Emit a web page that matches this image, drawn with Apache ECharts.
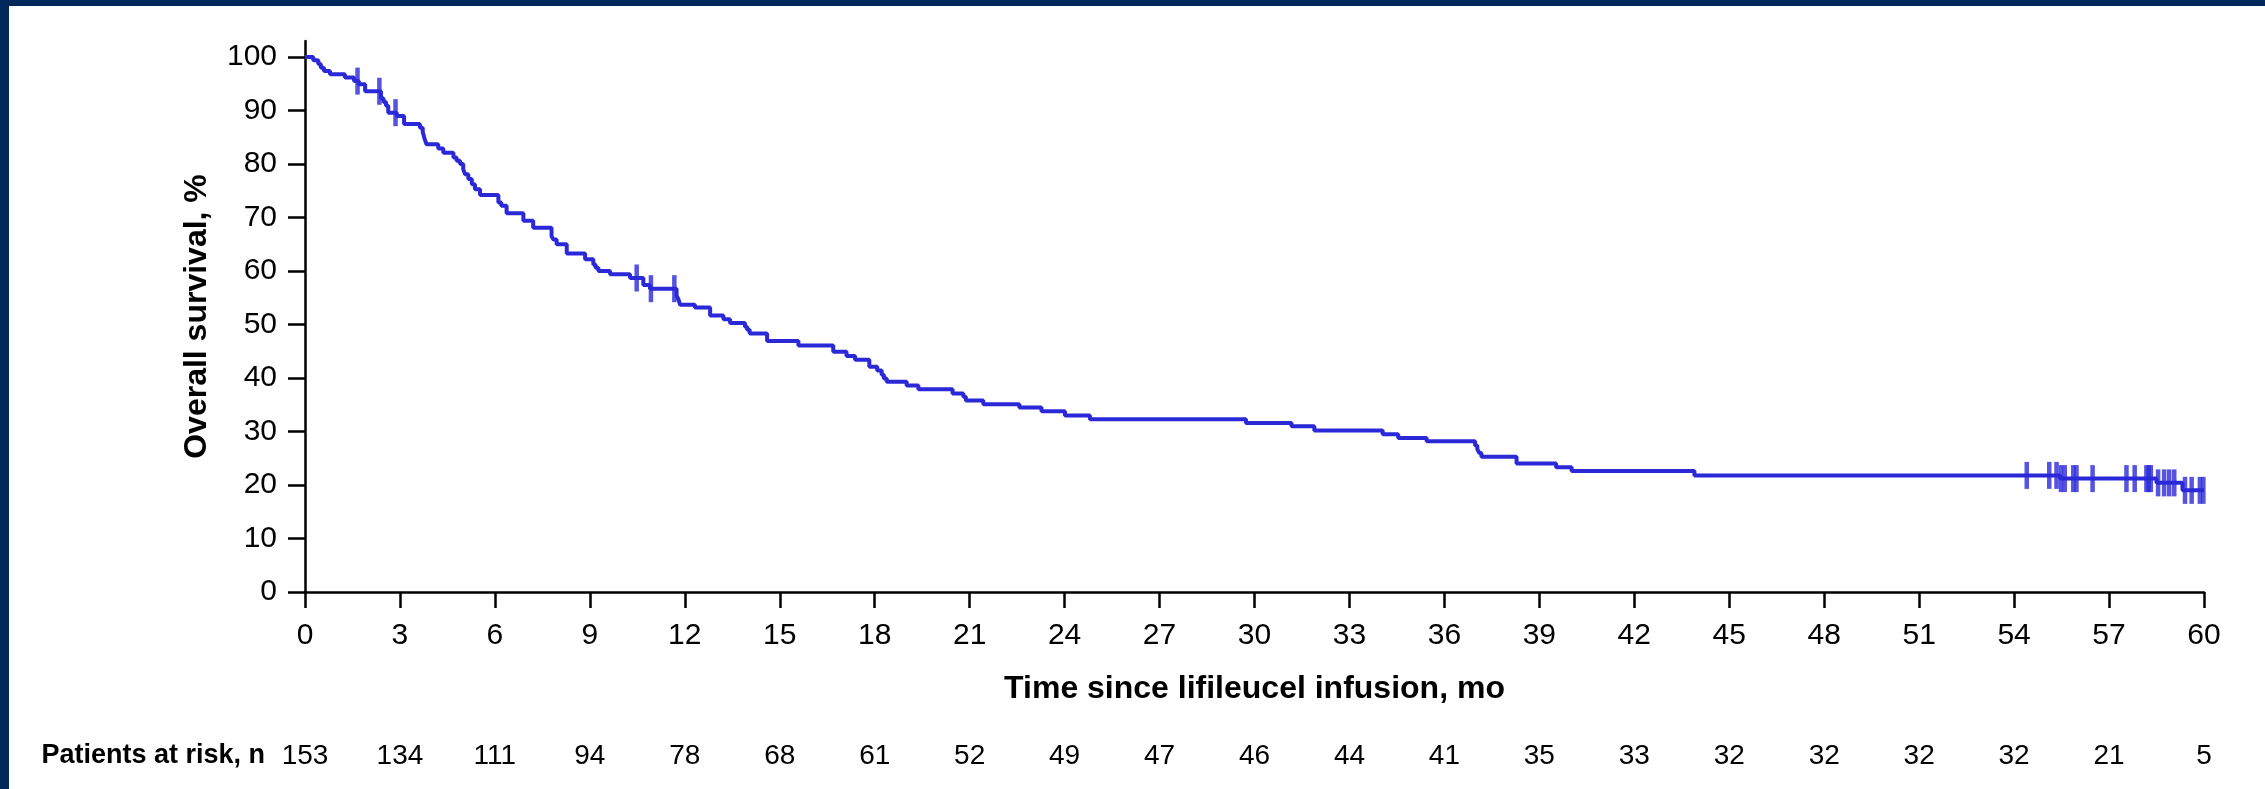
<!DOCTYPE html>
<html>
<head>
<meta charset="utf-8">
<script src="https://cdn.jsdelivr.net/npm/echarts@6/dist/echarts.min.js"></script>
<style>
  html, body { margin: 0; padding: 0; width: 2265px; height: 789px; background: #00285a; overflow: hidden; }
  #chart { position: absolute; left: 9px; top: 6px; width: 2256px; height: 783px; background: #ffffff; }
</style>
</head>
<body>
<div id="chart"></div>
<script>
// Kaplan-Meier step points (time in months, overall survival %)
const timeMo = [0, 0.26, 0.42, 0.50, 0.60, 0.79, 1.26, 1.55, 1.70, 1.90, 2.40, 2.48, 2.56, 2.63, 2.90, 3.13, 3.63, 3.72, 3.78, 3.84,
  4.21, 4.37, 4.69, 4.79, 4.90, 5.00, 5.06, 5.16, 5.27, 5.37, 5.53, 6.11, 6.20, 6.37, 6.90, 7.21, 7.79, 7.85, 7.95, 8.27,
  8.85, 9.11, 9.18, 9.27, 9.64, 10.27, 10.69, 10.90, 11.74, 11.80, 11.85, 12.32, 12.80, 13.22, 13.43, 13.90, 13.97, 14.05, 14.60,
  15.59, 16.69, 17.11, 17.38, 17.83, 18.08, 18.22, 18.29, 18.38, 19.01, 19.38, 20.46, 20.80, 20.88, 21.43, 22.57, 23.27, 24.01, 24.80,
  29.73, 31.17, 31.89, 34.05, 34.54, 35.44, 36.97, 37.04, 37.10, 37.17, 38.28, 39.53, 40.02, 43.90, 55.45, 58.50, 59.32, 60.0];
const survPct = [100, 99.4, 98.7, 98.0, 97.4, 96.8, 96.2, 95.5, 94.9, 93.6, 92.3, 91.6, 90.9, 89.6, 89.0, 87.5, 86.8, 86.0, 84.7, 83.7,
  82.9, 82.1, 81.2, 80.6, 80.0, 79.0, 78.1, 77.2, 76.2, 75.3, 74.2, 72.8, 72.2, 70.8, 69.4, 68.1, 66.5, 65.9, 65.0, 63.3,
  62.2, 61.2, 60.6, 60.0, 59.4, 58.7, 57.4, 56.7, 55.4, 54.7, 53.7, 53.2, 51.7, 51.0, 50.3, 49.6, 49.0, 48.3, 46.9,
  46.1, 44.9, 44.1, 43.4, 42.1, 41.4, 40.6, 39.9, 39.3, 38.6, 37.9, 37.1, 36.5, 35.8, 35.1, 34.5, 33.8, 33.0, 32.3,
  31.6, 31.0, 30.2, 29.5, 28.8, 28.2, 27.4, 26.7, 26.0, 25.3, 24.0, 23.3, 22.6, 21.8, 21.2, 20.4, 19.0, 19.0];

// Censored observations
const censorMo = [1.66, 2.35, 2.86, 10.48, 10.93, 11.67,
  54.40, 55.11, 55.34, 55.48, 55.60, 55.87, 55.97, 56.48, 57.55, 57.81, 58.18, 58.25, 58.32,
  58.55, 58.74, 58.90, 59.06, 59.40, 59.61, 59.87, 59.98];
const censorPct = [95.5, 93.6, 89.6, 58.7, 56.7, 56.7,
  21.8, 21.8, 21.8, 21.2, 21.2, 21.2, 21.2, 21.2, 21.2, 21.2, 21.2, 21.2, 21.2,
  20.4, 20.4, 20.4, 20.4, 19.0, 19.0, 19.0, 19.0];

// Number at risk table
const riskMo = [0, 3, 6, 9, 12, 15, 18, 21, 24, 27, 30, 33, 36, 39, 42, 45, 48, 51, 54, 57, 60];
const riskN = [153, 134, 111, 94, 78, 68, 61, 52, 49, 47, 46, 44, 41, 35, 33, 32, 32, 32, 32, 21, 5];

const yTicks = [0, 10, 20, 30, 40, 50, 60, 70, 80, 90, 100];

const lineColor = '#2b28d8';
const font = "'Liberation Sans', Arial, Helvetica, sans-serif";

const kmData = timeMo.map((t, i) => [t, survPct[i]]);
const censorData = censorMo.map((t, i) => [t, censorPct[i]]);
const riskMap = {};
riskMo.forEach((t, i) => { riskMap[t] = riskN[i]; });

const chart = echarts.init(document.getElementById('chart'), null, { renderer: 'canvas' });
chart.setOption({
  animation: false,
  backgroundColor: '#ffffff',
  grid: [
    { left: 296, right: 61, top: 35, bottom: 197 },
    { left: 296, right: 61, top: 749, height: 1 }
  ],
  xAxis: [
    {
      gridIndex: 0, type: 'value', min: 0, max: 60, interval: 3,
      name: 'Time since lifileucel infusion, mo', nameLocation: 'middle', nameGap: 81,
      nameTextStyle: { fontFamily: font, fontWeight: 'bold', fontSize: 32, color: '#000' },
      axisLine: { show: true, onZero: false, lineStyle: { color: '#000', width: 2.5 } },
      axisTick: { show: true, length: 16, lineStyle: { color: '#000', width: 2.5 } },
      axisLabel: { fontFamily: font, fontSize: 30, color: '#000', margin: 29 },
      splitLine: { show: false }
    },
    {
      gridIndex: 1, type: 'value', min: 0, max: 60, interval: 3,
      name: 'Patients at risk, n', nameLocation: 'start', nameGap: 40,
      nameTextStyle: { fontFamily: font, fontWeight: 'bold', fontSize: 27, color: '#000', verticalAlign: 'middle' },
      axisLine: { show: false },
      axisTick: { show: false },
      axisLabel: {
        fontFamily: font, fontSize: 28, color: '#000', margin: 0, verticalAlign: 'middle',
        formatter: v => (riskMap[v] !== undefined ? String(riskMap[v]) : '')
      },
      splitLine: { show: false }
    }
  ],
  yAxis: [
    {
      gridIndex: 0, type: 'value', min: 0, max: 103,
      name: 'Overall survival, %', nameLocation: 'middle', nameGap: 92,
      nameTextStyle: { fontFamily: font, fontWeight: 'bold', fontSize: 32, color: '#000' },
      axisLine: { show: true, onZero: false, lineStyle: { color: '#000', width: 2.5 } },
      axisTick: { show: true, length: 17, customValues: yTicks, lineStyle: { color: '#000', width: 2.5 } },
      axisLabel: { fontFamily: font, fontSize: 30, color: '#000', margin: 28, customValues: yTicks },
      splitLine: { show: false }
    },
    { gridIndex: 1, type: 'value', min: 0, max: 1, show: false }
  ],
  series: [
    {
      type: 'line', xAxisIndex: 0, yAxisIndex: 0, step: 'end', data: kmData,
      showSymbol: false, symbol: 'none',
      lineStyle: { color: lineColor, width: 4 }, z: 3
    },
    {
      type: 'scatter', xAxisIndex: 0, yAxisIndex: 0, data: censorData,
      symbol: 'rect', symbolSize: [4.5, 27],
      itemStyle: { color: lineColor }, z: 4
    }
  ]
});
</script>
</body>
</html>
